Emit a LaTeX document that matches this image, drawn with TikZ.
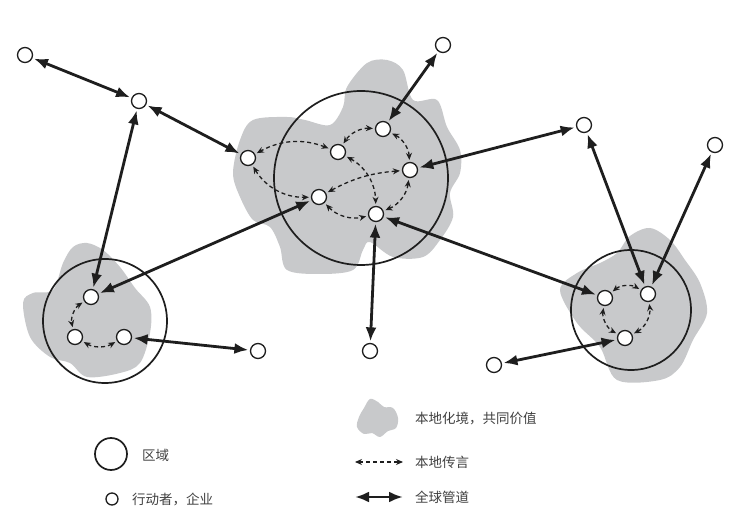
\documentclass[tikz,border=0pt]{standalone}
\usepackage{fontspec}
\usepackage{xcolor}
\usetikzlibrary{arrows.meta, positioning}
\newfontfamily\cjk{Noto Sans CJK SC}
\definecolor{milieugray}{RGB}{200,201,203}
\definecolor{inkgray}{RGB}{30,30,30}

\begin{document}
\begin{tikzpicture}[
    x=1pt, y=-1pt,
    font=\cjk\fontsize{13.5}{16}\selectfont,
    % Styles
    zone/.style={draw=inkgray, line width=1.7pt, circle, inner sep=0pt},
    actor/.style={draw=inkgray, line width=1.3pt, fill=white, circle, inner sep=0pt, minimum size=15pt},
    milieu/.style={fill=milieugray, draw=none},
    pipe/.style={{Latex[length=14pt,width=11pt]}-{Latex[length=14pt,width=11pt]}, line width=2.8pt, draw=inkgray, shorten >=1.5pt, shorten <=1.5pt},
    buzz/.style={{Stealth[length=7pt,width=6pt]}-{Stealth[length=7pt,width=6pt]}, dashed, dash pattern=on 4pt off 3pt, line width=1.3pt, draw=inkgray, shorten >=2pt, shorten <=2pt},
    legend/.style={anchor=west, text=inkgray!85, inner sep=0pt}
]
\useasboundingbox (0,0) rectangle (729,529);

% ----------------------------------------------------
% Local milieus (gray clouds)
% ----------------------------------------------------
\fill[milieu] plot[smooth cycle, tension=0.55] coordinates {
    (253,120) (287,117) (305,120) (330,125) (343,107) (347,87) (367,63)
    (387,60) (403,70) (413,100) (437,100) (447,127) (460,150) (460,173)
    (450,193) (453,217) (440,240) (423,257) (393,257) (370,242) (363,250)
    (353,270) (320,274) (287,270) (280,247) (270,227) (253,220) (240,197)
    (233,173) (240,140)};
\fill[milieu] plot[smooth cycle, tension=0.55] coordinates {
    (73,247) (87,243) (103,250) (120,267) (135,288) (150,307) (150,333)
    (140,363) (120,373) (87,377) (70,363) (50,357) (30,337) (23,303)
    (33,293) (53,290) (63,263)};
\fill[milieu] plot[smooth cycle, tension=0.55] coordinates {
    (630,236) (650,228) (670,240) (685,260) (700,283) (707,313) (693,340)
    (680,367) (660,380) (617,380) (600,347) (577,323) (560,290) (577,273)
    (600,263) (617,253)};

% ----------------------------------------------------
% Regions
% ----------------------------------------------------
\node[zone, minimum size=174pt] (centre) at (361,178) {};
\node[zone, minimum size=124pt] (west) at (105,321) {};
\node[zone, minimum size=120pt] (east) at (631,310) {};

% ----------------------------------------------------
% Actors
% ----------------------------------------------------
% central cluster
\node[actor] (m1) at (383,129) {};
\node[actor] (m2) at (338,152) {};
\node[actor] (m3) at (410,170) {};
\node[actor] (m4) at (319,197) {};
\node[actor] (m5) at (376,214) {};
% west cluster
\node[actor] (l1) at (91,297) {};
\node[actor] (l2) at (75,337) {};
\node[actor] (l3) at (124,337) {};
% east cluster
\node[actor] (r1) at (605,298) {};
\node[actor] (r2) at (648,294) {};
\node[actor] (r3) at (625,338) {};
% outside actors
\node[actor] (o1) at (25,55) {};
\node[actor] (o2) at (139,101) {};
\node[actor] (o3) at (443,45) {};
\node[actor] (o4) at (248,158) {};
\node[actor] (o5) at (584,125) {};
\node[actor] (o6) at (715,145) {};
\node[actor] (o7) at (258,351) {};
\node[actor] (o8) at (370,351) {};
\node[actor] (o9) at (494,365) {};

% ----------------------------------------------------
% Local buzz
% ----------------------------------------------------
\draw[buzz] (m1) to[bend right=30] (m2);
\draw[buzz] (m2) to[bend right=25] (o4);
\draw[buzz] (o4) to[bend right=30] (m4);
\draw[buzz] (m2) to[bend left=30] (m5);
\draw[buzz] (m3) to[bend right=12] (m4);
\draw[buzz] (m1) to[bend left=30] (m3);
\draw[buzz] (m3) to[bend left=30] (m5);
\draw[buzz] (m4) to[bend right=30] (m5);

\draw[buzz] (l1) to[bend right=35] (l2);
\draw[buzz] (l2) to[bend right=30] (l3);

\draw[buzz] (r1) to[bend left=35] (r2);
\draw[buzz] (r1) to[bend right=35] (r3);
\draw[buzz] (r3) to[bend right=35] (r2);

% ----------------------------------------------------
% Global pipelines
% ----------------------------------------------------
\draw[pipe] (o1) -- (o2);
\draw[pipe] (o2) -- (o4);
\draw[pipe] (o2) -- (l1);
\draw[pipe] (l1) -- (m4);
\draw[pipe] (l3) -- (o7);
\draw[pipe] (o3) -- (m1);
\draw[pipe] (m3) -- (o5);
\draw[pipe] (m5) -- (o8);
\draw[pipe] (m5) -- (r1);
\draw[pipe] (r2) -- (o5);
\draw[pipe] (r2) -- (o6);
\draw[pipe] (r3) -- (o9);

% ----------------------------------------------------
% Legend
% ----------------------------------------------------
\node[zone, minimum size=32pt] (keyzone) at (111,454) {};
\node[legend] (keyzonetext) at (142,455) {区域};
\node[actor, minimum size=12pt] (keyactor) at (112,499) {};
\node[legend] (keyactortext) at (132,499) {行动者，企业};

\fill[milieu] plot[smooth cycle, tension=0.6] coordinates {
    (370,399) (378,402) (384,407) (393,408) (398,418) (396,428) (388,431)
    (380,437) (372,433) (364,434) (357,427) (359,417) (364,408)};
\node[legend] (keymilieu) at (415,419) {本地化境，共同价值};

\coordinate (buzzl) at (355,462);
\coordinate (buzzr) at (403,462);
\draw[buzz, shorten >=0pt, shorten <=0pt] (buzzl) -- (buzzr);
\node[legend] (keybuzz) at (415,462) {本地传言};

\coordinate (pipel) at (355,497);
\coordinate (piper) at (403,497);
\draw[pipe, shorten >=0pt, shorten <=0pt] (pipel) -- (piper);
\node[legend] (keypipe) at (415,497) {全球管道};

\end{tikzpicture}
\end{document}
